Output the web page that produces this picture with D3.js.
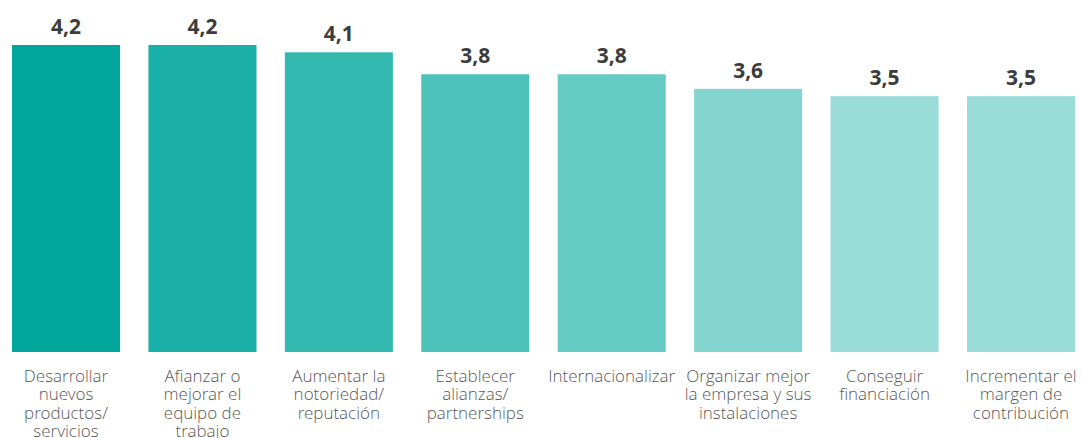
<!DOCTYPE html>
<html>
<head>
<meta charset="utf-8">
<script src="https://cdn.jsdelivr.net/npm/d3@7"></script>
<style>
  html, body { margin: 0; padding: 0; background: #ffffff; }
  svg { display: block; }
</style>
</head>
<body>
<svg id="chart" width="1081" height="438"></svg>
<script>
// Categories (each entry split into its display lines)
const categories = [
  ["Desarrollar", "nuevos", "productos/", "servicios"],
  ["Afianzar o", "mejorar el", "equipo de", "trabajo"],
  ["Aumentar la", "notoriedad/", "reputación"],
  ["Establecer", "alianzas/", "partnerships"],
  ["Internacionalizar"],
  ["Organizar mejor", "la empresa y sus", "instalaciones"],
  ["Conseguir", "financiación"],
  ["Incrementar el", "margen de", "contribución"]
];
const values = [4.2, 4.2, 4.1, 3.8, 3.8, 3.6, 3.5, 3.5];
const barColors = ["#00a69c", "#1bb0a7", "#33b8b0", "#4dc2ba", "#66cbc4", "#84d5cf", "#9addd8", "#9addd8"];

const svg = d3.select("#chart");
const keys = categories.map((c, i) => i);

const x = d3.scaleBand()
  .domain(keys)
  .range([12, 1075])
  .paddingInner(0.208)
  .paddingOuter(0);

const y = d3.scaleLinear()
  .domain([0, 4.2])
  .range([352, 45]);

const fmt = v => d3.format(".1f")(v).replace(".", ",");

// Bars
svg.append("g")
  .selectAll("rect")
  .data(values)
  .join("rect")
  .attr("x", (d, i) => x(i))
  .attr("y", d => y(d))
  .attr("width", x.bandwidth())
  .attr("height", d => y(0) - y(d))
  .attr("fill", (d, i) => barColors[i]);

// Value labels
svg.append("g")
  .selectAll("text")
  .data(values)
  .join("text")
  .attr("x", (d, i) => x(i) + x.bandwidth() / 2)
  .attr("y", d => y(d) - 11)
  .attr("text-anchor", "middle")
  .attr("font-family", "'Open Sans', sans-serif")
  .attr("font-weight", 700)
  .attr("font-size", 21)
  .attr("fill", "#3c3c3c")
  .text(d => fmt(d));

// Category labels
const labels = svg.append("g")
  .selectAll("text")
  .data(categories)
  .join("text")
  .attr("x", (d, i) => x(i) + x.bandwidth() / 2)
  .attr("y", 382)
  .attr("text-anchor", "middle")
  .attr("font-family", "'Open Sans Light', 'Open Sans', sans-serif")
  .attr("font-weight", 300)
  .attr("font-size", 17)
  .attr("fill", "#5a5a5a");

labels.selectAll("tspan")
  .data(d => d)
  .join("tspan")
  .attr("x", function () { return d3.select(this.parentNode).attr("x"); })
  .attr("dy", (d, i) => i === 0 ? 0 : 18.3)
  .text(d => d);
</script>
</body>
</html>
